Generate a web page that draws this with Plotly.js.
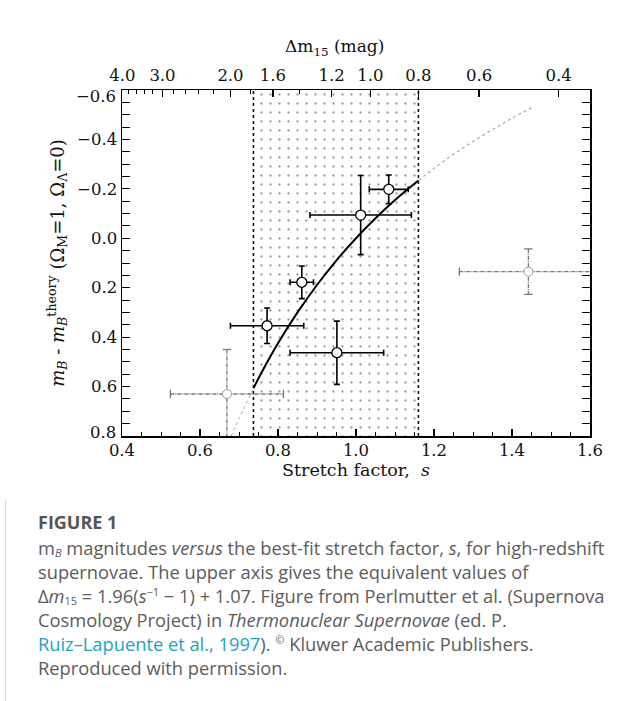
<!DOCTYPE html>
<html>
<head>
<meta charset="utf-8">
<script src="https://cdn.plot.ly/plotly-3.0.1.min.js"></script>
<style>
  html, body { margin:0; padding:0; background:#fff; width:638px; height:701px; overflow:hidden; }
  #border { position:absolute; left:5px; top:0; width:1px; height:701px; background:#d8d8d8; }
  #chart { position:absolute; left:0; top:0; width:638px; height:500px; }
  #cap { position:absolute; left:38px; top:510px; font-family:"Open Sans", "Noto Sans", sans-serif; color:#5c5c5c; font-size:18.3px; line-height:24px; white-space:nowrap; }
  #cap .fig { font-weight:700; font-size:18px; color:#555; margin-bottom:2px; }
  #cap .link { color:#1aa3c2; }
  #cap sub, #cap sup { font-size:11px; line-height:11px; vertical-align:baseline; position:relative; }
  #cap sub { top:0.15em; }
  #cap sup { top:-0.6em; }
</style>
</head>
<body>
<div id="border"></div>
<div id="chart"></div>
<div id="cap">
  <div class="fig">FIGURE 1</div>
  <div>m<sub><i>B</i></sub> magnitudes <i>versus</i> the best-fit stretch factor, <i>s</i>, for high-redshift<br>
  supernovae. The upper axis gives the equivalent values of<br>
  Δ<i>m</i><sub>15</sub> = 1.96(<i>s</i><sup>−1</sup> − 1) + 1.07. Figure from Perlmutter et al. (Supernova<br>
  Cosmology Project) in <i>Thermonuclear Supernovae</i> (ed. P.<br>
  <span class="link">Ruiz–Lapuente et al., 1997</span>). <sup>©</sup> Kluwer Academic Publishers.<br>
  Reproduced with permission.</div>
</div>
<script>
// ---- data ----
// supernovae inside the stretch window (solid error bars)
const sIn    = [1.084, 1.012, 0.861, 0.772, 0.951];
const mIn    = [-0.198, -0.094, 0.178, 0.354, 0.463];
const sErrIn = [0.050, 0.130, 0.030, 0.094, 0.120];
const mErrIn = [0.058, 0.160, 0.066, 0.072, 0.128];
// supernovae outside the window (grey dashed error bars)
const sOut    = [0.669, 1.442];
const mOut    = [0.630, 0.135];
const sErrOut = [0.145, 0.177];
const mErrOut = [0.180, 0.092];
// fitted relation (solid part inside window)
const fitS = [0.737, 0.76, 0.80, 0.85, 0.90, 0.95, 1.00, 1.05, 1.10, 1.16];
const fitM = [0.607, 0.537, 0.425, 0.300, 0.189, 0.089, 0.000, -0.081, -0.155, -0.234];
// dotted extensions of the relation
const extLoS = [0.680, 0.700, 0.737];
const extLoM = [0.800, 0.730, 0.607];
const extHiS = [1.16, 1.20, 1.25, 1.30, 1.35, 1.40, 1.45];
const extHiM = [-0.234, -0.283, -0.340, -0.392, -0.440, -0.486, -0.528];
// stretch window
const windowS = [0.737, 1.16];
// axes
const xRange = [0.4, 1.6];
const yRange = [0.8, -0.6];
const xTicks = [0.4, 0.6, 0.8, 1.0, 1.2, 1.4, 1.6];
const yTicks = [-0.6, -0.4, -0.2, 0.0, 0.2, 0.4, 0.6, 0.8];
const yMinor = [-0.55, -0.5, -0.45, -0.35, -0.3, -0.25, -0.15, -0.1, -0.05, 0.05, 0.1, 0.15, 0.25, 0.3, 0.35, 0.45, 0.5, 0.55, 0.65, 0.7, 0.75];
const dm15Labels = [4.0, 3.0, 2.0, 1.6, 1.2, 1.0, 0.8, 0.6, 0.4];
const dm15Minor  = [3.8, 3.6, 3.4, 3.2, 2.8, 2.6, 2.4, 2.2, 1.8, 1.4];

// Δm15 = 1.96(1/s − 1) + 1.07  ->  s = 1 / ((Δm15 − 1.07)/1.96 + 1)
const dmToS = d => 1 / ((d - 1.07) / 1.96 + 1);
const fmtY = v => (v < 0 ? '−' : '') + Math.abs(v).toFixed(1);

const FONT = '"DejaVu Serif", "Liberation Serif", serif';
const TICK = 16.5;
const traces = [];

// stippled window
traces.push({
  x: [windowS[0], windowS[1], windowS[1], windowS[0], windowS[0]],
  y: [yRange[1], yRange[1], yRange[0], yRange[0], yRange[1]],
  mode: 'lines', fill: 'toself', line: {width: 0, color: 'rgba(0,0,0,0)'},
  fillcolor: 'rgba(0,0,0,0)',
  fillpattern: {shape: '.', size: 9, solidity: 0.05, fgcolor: '#9a9a9a', bgcolor: '#ffffff'},
  hoverinfo: 'skip', showlegend: false
});
// window edges (dotted)
windowS.forEach(s => traces.push({
  x: [s, s], y: yRange, mode: 'lines',
  line: {color: '#111', width: 1.6, dash: 'dot'}, hoverinfo: 'skip', showlegend: false
}));
// dotted extensions
traces.push({x: extLoS, y: extLoM, mode: 'lines', line: {color: '#aaa', width: 1, dash: 'dot', shape: 'spline'}, showlegend: false});
traces.push({x: extHiS, y: extHiM, mode: 'lines', line: {color: '#aaa', width: 1.2, dash: 'dot', shape: 'spline'}, showlegend: false});
// fitted relation
traces.push({x: fitS, y: fitM, mode: 'lines', line: {color: '#000', width: 2, shape: 'spline'}, showlegend: false});

// grey dashed error bars for excluded points
sOut.forEach((s, i) => {
  const m = mOut[i], ex = sErrOut[i], ey = mErrOut[i];
  traces.push({
    x: [s - ex, s + ex, null, s, s], y: [m, m, null, m - ey, m + ey],
    mode: 'lines', line: {color: '#777', width: 1.3, dash: '4px,1px,1px,1px'},
    hoverinfo: 'skip', showlegend: false
  });
  traces.push({x: [s - ex, s + ex], y: [m, m], mode: 'markers',
    marker: {symbol: 'line-ns-open', size: 6, color: '#777', line: {color: '#777', width: 1.3}}, showlegend: false});
  traces.push({x: [s, s], y: [m - ey, m + ey], mode: 'markers',
    marker: {symbol: 'line-ew-open', size: 6, color: '#777', line: {color: '#777', width: 1.3}}, showlegend: false});
});
traces.push({x: sOut, y: mOut, mode: 'markers',
  marker: {symbol: 'circle', size: 9, color: '#fff', line: {color: '#999', width: 1}}, showlegend: false});

// included points
traces.push({
  x: sIn, y: mIn, mode: 'markers',
  error_x: {type: 'data', array: sErrIn, visible: true, color: '#000', thickness: 1.6, width: 3},
  error_y: {type: 'data', array: mErrIn, visible: true, color: '#000', thickness: 1.6, width: 3},
  marker: {symbol: 'circle', size: 10, color: '#fff', line: {color: '#000', width: 1.3}},
  showlegend: false
});

// dummy trace on the top axis
traces.push({x: xRange, y: [0, 0], xaxis: 'x2', mode: 'lines', line: {width: 0}, hoverinfo: 'skip', showlegend: false});

// end labels of the y axis are nudged inward as in the original
const yInner = yTicks.slice(1, -1);
const annotations = [
  {xref: 'paper', yref: 'y', x: 0, y: yTicks[0], text: fmtY(yTicks[0]), showarrow: false,
   xanchor: 'right', yanchor: 'middle', xshift: -4, yshift: -6, font: {family: FONT, size: TICK, color: '#111'}},
  {xref: 'paper', yref: 'y', x: 0, y: yTicks[yTicks.length - 1], text: fmtY(yTicks[yTicks.length - 1]), showarrow: false,
   xanchor: 'right', yanchor: 'middle', xshift: -4, yshift: 4, font: {family: FONT, size: TICK, color: '#111'}},
  {xref: 'paper', yref: 'paper', x: 0.455, y: 1.122, text: 'Δm<sub>15</sub> (mag)', showarrow: false,
   xanchor: 'center', yanchor: 'middle', font: {family: FONT, size: 17, color: '#111'}}
];

const layout = {
  width: 638, height: 500,
  margin: {l: 122, r: 48, t: 90, b: 64},
  paper_bgcolor: '#fff', plot_bgcolor: '#fff',
  font: {family: FONT, size: TICK, color: '#111'},
  annotations: annotations,
  xaxis: {
    range: xRange, tickmode: 'array', tickvals: xTicks, ticktext: xTicks.map(v => v.toFixed(1)),
    ticks: 'inside', ticklen: 7, tickwidth: 1.2, tickcolor: '#000',
    minor: {dtick: 0.05, ticks: 'inside', ticklen: 4, tickwidth: 1, tickcolor: '#000'},
    showline: true, linecolor: '#000', linewidth: 1.5, mirror: true,
    showgrid: false, zeroline: false, ticklabelstandoff: -1,
    title: {text: 'Stretch factor,  <i>s</i>', font: {family: FONT, size: 17.5}, standoff: 2},
    tickfont: {family: FONT, size: TICK}
  },
  xaxis2: {
    overlaying: 'x', side: 'top', range: xRange,
    tickmode: 'array', tickvals: dm15Labels.map(dmToS), ticktext: dm15Labels.map(v => v.toFixed(1)),
    ticks: 'inside', ticklen: 7, tickwidth: 1.2, tickcolor: '#000',
    minor: {tickmode: 'array', tickvals: dm15Minor.map(dmToS), ticks: 'inside', ticklen: 4, tickwidth: 1, tickcolor: '#000'},
    showline: false, showgrid: false, zeroline: false, ticklabelstandoff: 5,
    tickfont: {family: FONT, size: TICK}
  },
  yaxis: {
    range: yRange, tickmode: 'array', tickvals: yInner, ticktext: yInner.map(fmtY),
    ticks: 'inside', ticklen: 8, tickwidth: 1.2, tickcolor: '#000',
    minor: {tickmode: 'array', tickvals: yTicks.concat(yMinor), ticks: 'inside', ticklen: 4, tickwidth: 1, tickcolor: '#000'},
    showline: true, linecolor: '#000', linewidth: 1.5, mirror: 'allticks',
    showgrid: false, zeroline: false,
    title: {text: '<i>m<sub>B</sub></i> - <i>m<sub>B</sub></i><sup>theory</sup> (Ω<sub>M</sub>=1, Ω<sub>Λ</sub>=0)', font: {family: FONT, size: 18}, standoff: 8},
    tickfont: {family: FONT, size: TICK}
  }
};

Plotly.newPlot('chart', traces, layout, {displayModeBar: false, staticPlot: true});
</script>
</body>
</html>
